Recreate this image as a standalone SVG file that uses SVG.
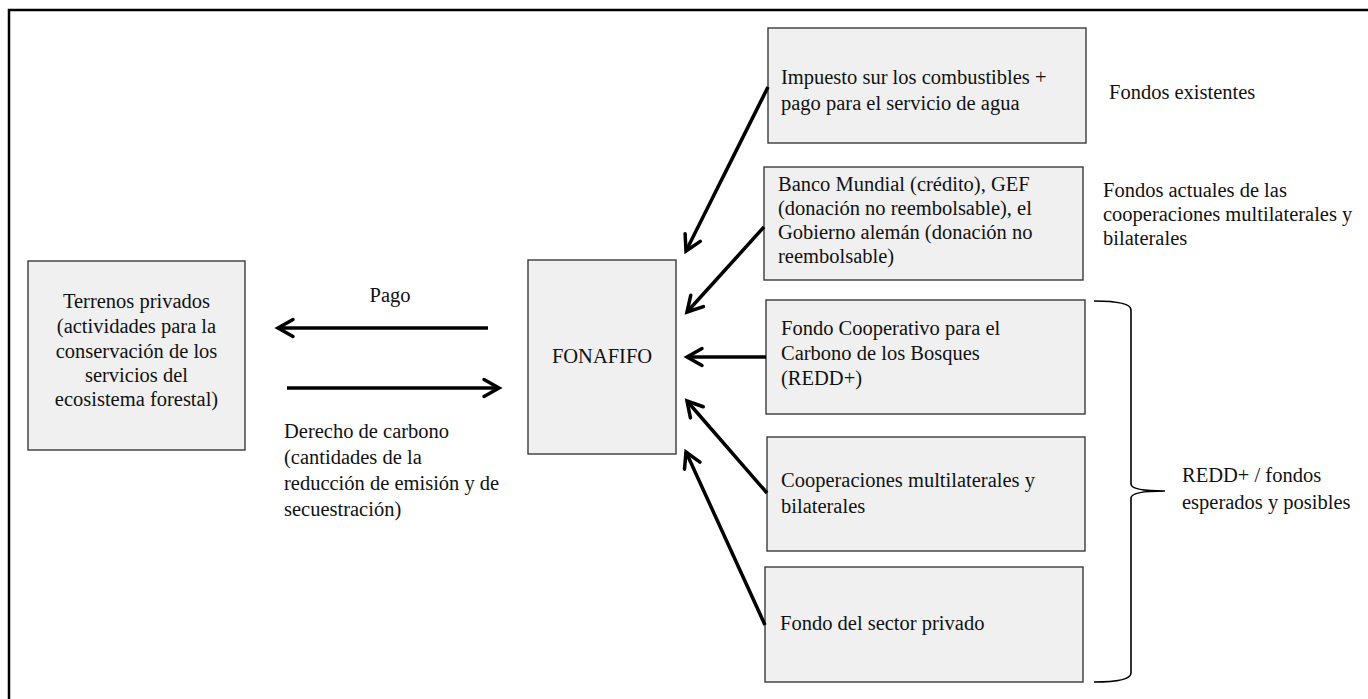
<svg xmlns="http://www.w3.org/2000/svg" width="1368" height="699" viewBox="0 0 1368 699" font-family="'Liberation Serif', serif">
<style>
  .box{fill:#f0f0f0;stroke:#3a3a3a;stroke-width:1.4}
  text{font-family:"Liberation Serif","Times New Roman",serif;font-size:20.5px;fill:#111}
  .c{text-anchor:middle}
  .ln{stroke:#000;stroke-width:3.5;fill:none}
</style>
<defs>
  <marker id="arr" markerUnits="userSpaceOnUse" markerWidth="40" markerHeight="40" viewBox="-20 -20 40 40" refX="0" refY="0" orient="auto" overflow="visible">
    <path d="M-15,-8.5 L0,0 L-15,8.5" fill="none" stroke="#000" stroke-width="3.5" stroke-linecap="round" stroke-linejoin="miter"/>
  </marker>
</defs>
<rect width="1368" height="699" fill="#fff"/>
<path d="M9,699 V10 H1368" fill="none" stroke="#000" stroke-width="2.5"/>

<g id="terrenos">
  <rect class="box" x="28" y="261" width="217" height="189"/>
  <text class="c" x="136.5" y="308">Terrenos privados</text>
  <text class="c" x="136.5" y="333">(actividades para la</text>
  <text class="c" x="136.5" y="358">conservación de los</text>
  <text class="c" x="136.5" y="382">servicios del</text>
  <text class="c" x="136.5" y="406">ecosistema forestal)</text>
</g>

<g id="fonafifo">
  <rect class="box" x="528" y="260" width="148" height="194"/>
  <text class="c" x="602" y="363">FONAFIFO</text>
</g>

<g id="impuesto">
  <rect class="box" x="768" y="28" width="318" height="115"/>
  <text x="781" y="84">Impuesto sur los combustibles +</text>
  <text x="781" y="110">pago para el servicio de agua</text>
</g>

<g id="banco">
  <rect class="box" x="764" y="167" width="319" height="113"/>
  <text x="778" y="191">Banco Mundial (crédito), GEF</text>
  <text x="778" y="215">(donación no reembolsable), el</text>
  <text x="778" y="239">Gobierno alemán (donación no</text>
  <text x="778" y="263">reembolsable)</text>
</g>

<g id="fcpf">
  <rect class="box" x="766" y="300" width="319" height="114"/>
  <text x="781" y="335">Fondo Cooperativo para el</text>
  <text x="781" y="360">Carbono de los Bosques</text>
  <text x="781" y="385">(REDD+)</text>
</g>

<g id="cooperaciones">
  <rect class="box" x="767" y="437" width="318" height="114"/>
  <text x="781" y="487">Cooperaciones multilaterales y</text>
  <text x="781" y="513">bilaterales</text>
</g>

<g id="privado">
  <rect class="box" x="765" y="567" width="318" height="115"/>
  <text x="780" y="630">Fondo del sector privado</text>
</g>

<g id="labels">
  <text class="c" x="390" y="302">Pago</text>
  <text x="284" y="438">Derecho de carbono</text>
  <text x="284" y="464">(cantidades de la</text>
  <text x="284" y="490">reducción de emisión y de</text>
  <text x="284" y="516">secuestración)</text>
  <text x="1109" y="99">Fondos existentes</text>
  <text x="1103" y="197">Fondos actuales de las</text>
  <text x="1103" y="221">cooperaciones multilaterales y</text>
  <text x="1103" y="245">bilaterales</text>
  <text x="1182" y="482">REDD+ / fondos</text>
  <text x="1182" y="509">esperados y posibles</text>
</g>

<g id="connectors">
  <line class="ln" x1="488" y1="328" x2="278" y2="328" marker-end="url(#arr)"/>
  <line class="ln" x1="287" y1="388" x2="499" y2="388" marker-end="url(#arr)"/>
  <line class="ln" x1="768" y1="87" x2="686" y2="251" marker-end="url(#arr)"/>
  <line class="ln" x1="764" y1="227" x2="687" y2="312" marker-end="url(#arr)"/>
  <line class="ln" x1="766" y1="357" x2="687" y2="357" marker-end="url(#arr)"/>
  <line class="ln" x1="767" y1="493" x2="687" y2="401" marker-end="url(#arr)"/>
  <line class="ln" x1="765" y1="625" x2="686" y2="452" marker-end="url(#arr)"/>
  <path d="M1094,301 Q1131,301 1131,310 V484 Q1131,491 1165,491 Q1131,491 1131,498 V673 Q1131,682 1094,682" fill="none" stroke="#000" stroke-width="1.6"/>
</g>
</svg>
